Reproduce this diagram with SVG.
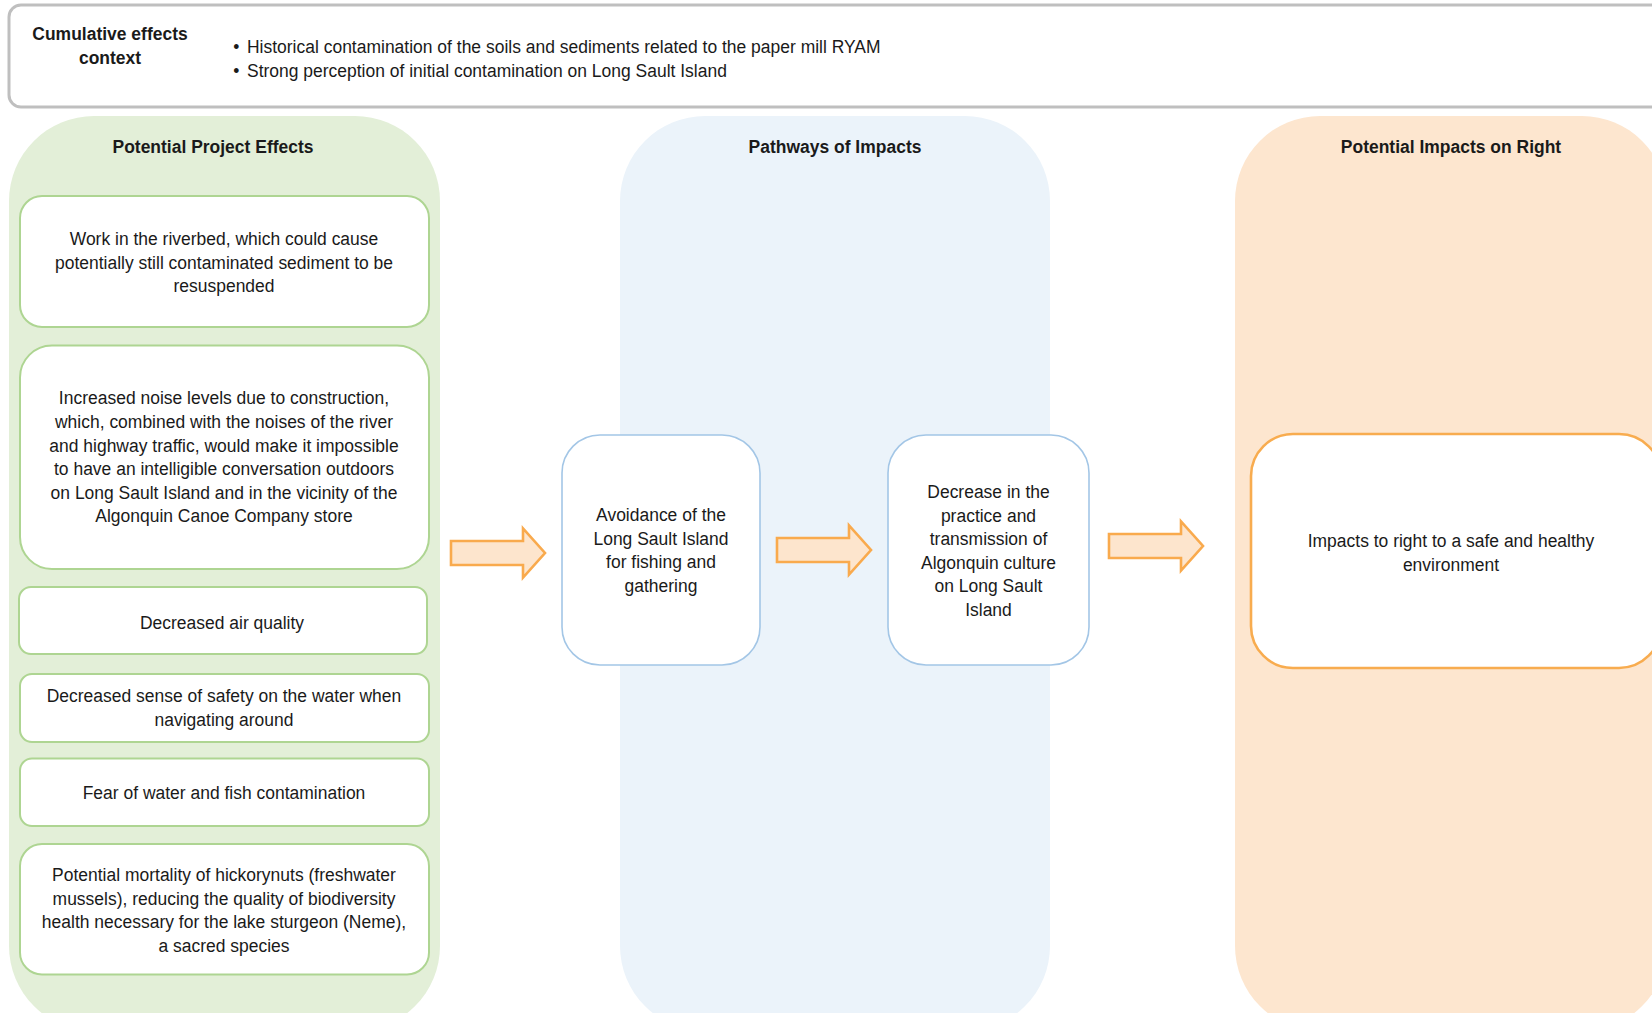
<svg xmlns="http://www.w3.org/2000/svg" width="1652" height="1013" viewBox="0 0 1652 1013">
  <style>
    text { font-family: "Liberation Sans", Arial, sans-serif; fill: #1a1a1a; font-size: 19px; }
    .body { text-anchor: middle; }
    .head { font-weight: bold; text-anchor: middle; }
    .ctx { fill: #ffffff; stroke: #bfbfbf; stroke-width: 3; }
    .col-green { fill: #e3efd8; }
    .col-blue { fill: #ebf3fa; }
    .col-orange { fill: #fde6cf; }
    .box-green { fill: #ffffff; stroke: #aed592; stroke-width: 2; }
    .box-blue { fill: #ffffff; stroke: #a3c6e6; stroke-width: 1.6; }
    .box-orange { fill: #ffffff; stroke: #f8ac4f; stroke-width: 2.6; }
    .arrow { fill: #fde5cd; stroke: #f9aa4d; stroke-width: 2.6; stroke-linejoin: miter; }
  </style>
  <defs>
    <!-- block arrow: shaft 24 high, head 49 high, 94 long, tip at origin -->
    <path id="blockArrow" d="M-94,-12 H-22 V-24.5 L0,0 L-22,24.5 V12 H-94 Z"/>
  </defs>

  <rect width="1652" height="1013" fill="#ffffff"/>

  <!-- context banner; narrow lettering is a 0.92 horizontal squeeze about each anchor -->
  <g id="context">
    <rect class="ctx" x="9" y="5" width="1655" height="102" rx="12"/>
    <text class="head" x="110" y="40" transform="matrix(0.92 0 0 1 8.8 0)">Cumulative effects</text>
    <text class="head" x="110" y="64" transform="matrix(0.92 0 0 1 8.8 0)">context</text>
    <g transform="matrix(0.92 0 0 1 19.76 1)">
      <text x="232" y="52">•</text>
      <text x="247" y="52">Historical contamination of the soils and sediments related to the paper mill RYAM</text>
      <text x="232" y="76.5">•</text>
      <text x="247" y="76.5">Strong perception of initial contamination on Long Sault Island</text>
    </g>
  </g>

  <!-- column backgrounds -->
  <g id="col-effects">
    <rect class="col-green" x="9" y="116" width="431" height="915" rx="85"/>
    <text class="head" x="213" y="153.5" transform="matrix(0.92 0 0 1 17.04 0)">Potential Project Effects</text>
  </g>
  <g id="col-pathways">
    <rect class="col-blue" x="620" y="116" width="430" height="915" rx="85"/>
    <text class="head" x="835" y="153.5" transform="matrix(0.92 0 0 1 66.8 0)">Pathways of Impacts</text>
  </g>
  <g id="col-rights">
    <rect class="col-orange" x="1235" y="116" width="432" height="915" rx="85"/>
    <text class="head" x="1451" y="153.5" transform="matrix(0.92 0 0 1 116.08 0)">Potential Impacts on Right</text>
  </g>

  <!-- project effects -->
  <g id="effect-riverbed">
    <rect class="box-green" x="20" y="196" width="409" height="131" rx="22"/>
    <text class="body" transform="matrix(0.92 0 0 1 17.92 1)"><tspan x="224" y="244">Work in the riverbed, which could cause</tspan><tspan x="224" y="267.6">potentially still contaminated sediment to be</tspan><tspan x="224" y="291.2">resuspended</tspan></text>
  </g>
  <g id="effect-noise">
    <rect class="box-green" x="20" y="345.5" width="409" height="223.5" rx="32"/>
    <text class="body" transform="matrix(0.92 0 0 1 17.92 0.5)"><tspan x="224" y="404">Increased noise levels due to construction,</tspan><tspan x="224" y="427.6">which, combined with the noises of the river</tspan><tspan x="224" y="451.2">and highway traffic, would make it impossible</tspan><tspan x="224" y="474.8">to have an intelligible conversation outdoors</tspan><tspan x="224" y="498.4">on Long Sault Island and in the vicinity of the</tspan><tspan x="224" y="522">Algonquin Canoe Company store</tspan></text>
  </g>
  <g id="effect-air">
    <rect class="box-green" x="19" y="587" width="408" height="67" rx="12"/>
    <text class="body" x="222" y="627" transform="matrix(0.92 0 0 1 17.76 2)">Decreased air quality</text>
  </g>
  <g id="effect-safety">
    <rect class="box-green" x="20" y="674" width="409" height="68" rx="12"/>
    <text class="body" transform="matrix(0.92 0 0 1 17.92 1)"><tspan x="224" y="701.5">Decreased sense of safety on the water when</tspan><tspan x="224" y="725.1">navigating around</tspan></text>
  </g>
  <g id="effect-fear">
    <rect class="box-green" x="20" y="758.5" width="409" height="67.5" rx="12"/>
    <text class="body" x="224" y="798.5" transform="matrix(0.92 0 0 1 17.92 1)">Fear of water and fish contamination</text>
  </g>
  <g id="effect-mussels">
    <rect class="box-green" x="20" y="844" width="409" height="130.5" rx="22"/>
    <text class="body" transform="matrix(0.92 0 0 1 17.92 1.5)"><tspan x="224" y="879.6">Potential mortality of hickorynuts (freshwater</tspan><tspan x="224" y="903.2">mussels), reducing the quality of biodiversity</tspan><tspan x="224" y="926.8">health necessary for the lake sturgeon (Neme),</tspan><tspan x="224" y="950.4">a sacred species</tspan></text>
  </g>

  <!-- pathways -->
  <g id="pathway-avoidance">
    <rect class="box-blue" x="562" y="435" width="198" height="230" rx="38"/>
    <text class="body" transform="matrix(0.92 0 0 1 52.88 0.5)"><tspan x="661" y="520.6">Avoidance of the</tspan><tspan x="661" y="544.2">Long Sault Island</tspan><tspan x="661" y="567.8">for fishing and</tspan><tspan x="661" y="591.4">gathering</tspan></text>
  </g>
  <g id="pathway-culture">
    <rect class="box-blue" x="888" y="435" width="201" height="230" rx="38"/>
    <text class="body" transform="matrix(0.92 0 0 1 79.08 1)"><tspan x="988.5" y="497">Decrease in the</tspan><tspan x="988.5" y="520.6">practice and</tspan><tspan x="988.5" y="544.2">transmission of</tspan><tspan x="988.5" y="567.8">Algonquin culture</tspan><tspan x="988.5" y="591.4">on Long Sault</tspan><tspan x="988.5" y="615">Island</tspan></text>
  </g>

  <!-- impact on right -->
  <g id="impact-environment">
    <rect class="box-orange" x="1251" y="434" width="410" height="234" rx="42"/>
    <text class="body" transform="matrix(0.92 0 0 1 116.08 0)"><tspan x="1451" y="547">Impacts to right to a safe and healthy</tspan><tspan x="1451" y="570.6">environment</tspan></text>
  </g>

  <!-- connectors -->
  <g id="connectors">
    <use href="#blockArrow" class="arrow" x="545" y="553"/>
    <use href="#blockArrow" class="arrow" x="871" y="550"/>
    <use href="#blockArrow" class="arrow" x="1203" y="546"/>
  </g>
</svg>
